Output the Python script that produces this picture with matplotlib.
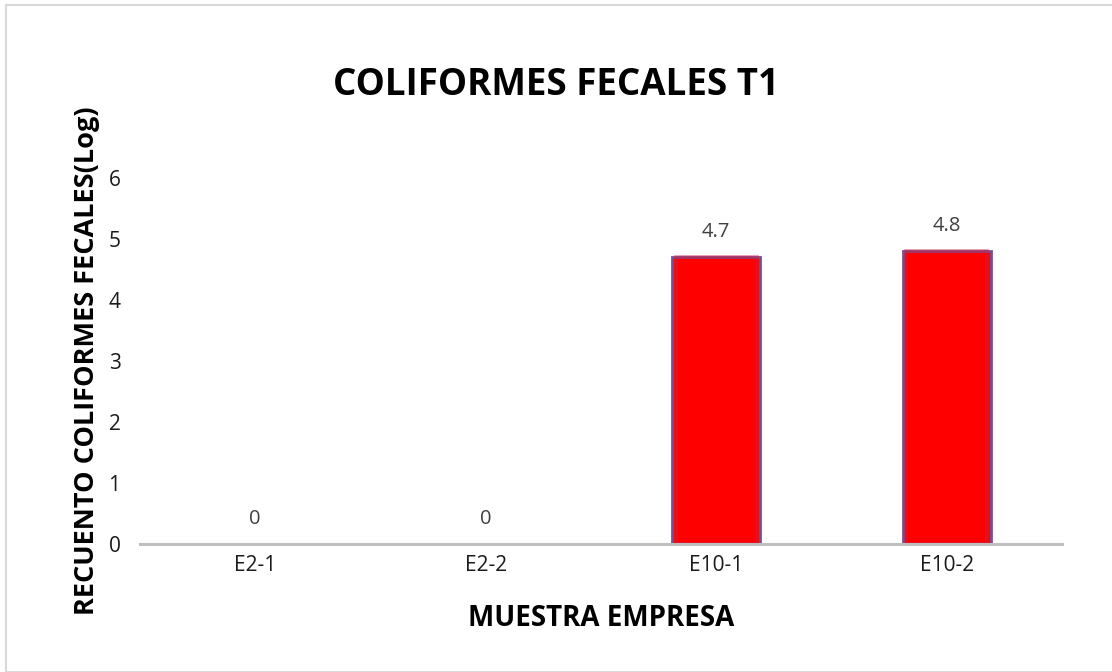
import matplotlib.pyplot as plt
from matplotlib.patches import Rectangle

muestras = ["E2-1", "E2-2", "E10-1", "E10-2"]
recuento_log = [0, 0, 4.7, 4.8]
etiquetas = ["0", "0", "4.7", "4.8"]

plt.rcParams['font.family'] = ['Open Sans', 'DejaVu Sans']

fig = plt.figure(figsize=(11.12, 6.72), dpi=100)
fig.patches.append(Rectangle((6/1112, 0), 1.0, 1 - 5/672, transform=fig.transFigure,
                             fill=False, edgecolor='#d9d9d9', linewidth=1.5))

ax = fig.add_axes([140/1112, 1 - 544/672, 922/1112, 366/672])
x = range(len(muestras))
rim = [2.0 if v > 0 else 0 for v in recuento_log]

# red bars with a soft purple rim
ax.bar(x, recuento_log, width=0.38, color='#ff0000', edgecolor='#7a4e8c', linewidth=rim, zorder=2)
ax.bar(x, recuento_log, width=0.35, color='none', edgecolor='#c81e46',
       linewidth=[r * 1.3 for r in rim], alpha=0.5, zorder=3)

for xi, v, t in zip(x, recuento_log, etiquetas):
    ax.annotate(t, (xi, v), xytext=(0, 11), textcoords='offset points',
                ha='center', va='bottom', fontsize=14.5, color='#404040')

ax.axhline(0, color='#bfbfbf', linewidth=2.2, zorder=4, clip_on=False)
ax.set_xlim(-0.5, 3.5)
ax.set_ylim(0, 6)
ax.set_yticks(range(7))
ax.set_xticks(list(x))
ax.set_xticklabels(muestras)
ax.tick_params(length=0, labelsize=15, labelcolor='#1a1a1a')
ax.tick_params(axis='x', pad=8)
ax.tick_params(axis='y', pad=14)
for s in ax.spines.values():
    s.set_visible(False)

ax.set_xlabel("MUESTRA EMPRESA", fontsize=20, fontweight='bold', labelpad=20)
ax.set_ylabel("RECUENTO COLIFORMES FECALES(Log)", fontsize=19.5, fontweight='bold', labelpad=6)
fig.text(556/1112, 1 - 85/672, "COLIFORMES FECALES T1", ha='center', va='center',
         fontsize=26.5, fontweight='bold')

fig.savefig("out.png", dpi=100)
